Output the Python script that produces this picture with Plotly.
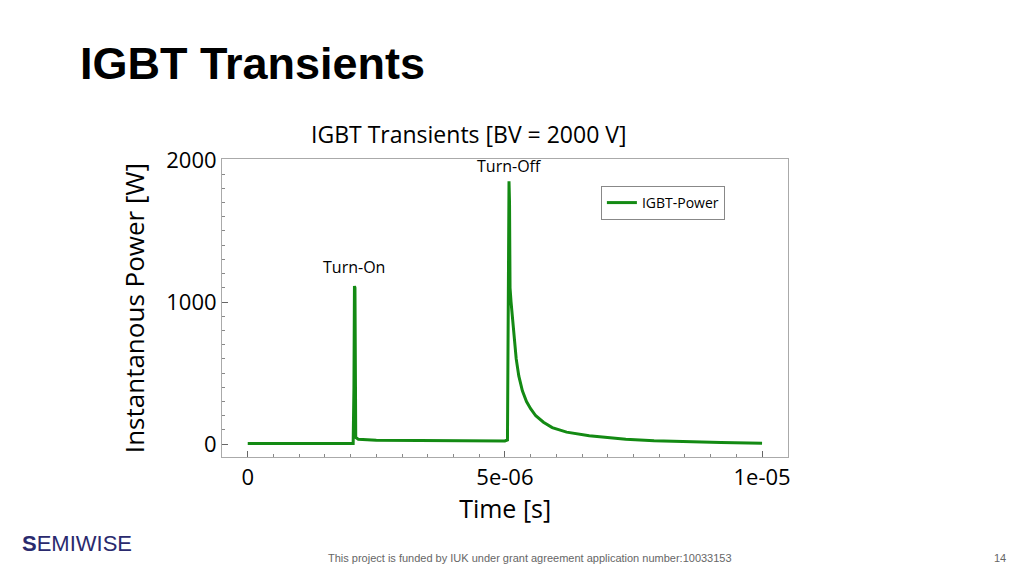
import plotly.graph_objects as go

# IGBT instantaneous power
time_s = [0, 1.0e-6, 2.05e-6, 2.065e-6, 2.075e-6, 2.085e-6, 2.1e-6, 2.15e-6, 2.5e-6, 3.5e-6, 5.0e-6,
          5.05e-6, 5.07e-6, 5.08e-6, 5.09e-6, 5.1e-6, 5.12e-6, 5.15e-6, 5.18e-6, 5.22e-6, 5.27e-6,
          5.34e-6, 5.42e-6, 5.5e-6, 5.6e-6, 5.75e-6, 5.92e-6, 6.2e-6, 6.64e-6, 7.0e-6, 7.35e-6,
          7.9e-6, 8.43e-6, 9.2e-6, 1.0e-5]
power_w = [5, 5, 5, 400, 1112, 1100, 47, 35, 28, 25, 23,
           30, 1840, 1850, 1700, 1100, 1000, 860, 740, 600, 480,
           375, 300, 250, 200, 155, 117, 85, 59, 45, 35,
           25, 19, 12, 7]

fig = go.Figure(go.Scatter(x=time_s, y=power_w, mode='lines', name='IGBT-Power',
                           line=dict(color='#138a13', width=3)))

fig.update_layout(width=1024, height=576, margin=dict(l=0, r=0, t=0, b=0),
                  paper_bgcolor='white', plot_bgcolor='white',
                  font=dict(family='Open Sans', color='black'),
                  showlegend=True,
                  legend=dict(x=0.579, y=0.691, xanchor='left', yanchor='top',
                              bordercolor='#888', borderwidth=1, font=dict(size=14)))

fig.update_xaxes(domain=[0.209, 0.762], range=[-5e-7, 1.051e-5], automargin=False,
                 tickvals=[0, 5e-6, 1e-5], ticktext=['0', '5e-06', '1e-05'],
                 ticks='inside', ticklen=6, tickcolor='#666', tickfont=dict(size=22),
                 minor=dict(dtick=5e-7, ticks='inside', ticklen=3, tickcolor='#888'),
                 showgrid=False, zeroline=False, showline=True, linecolor='#aaa', mirror=True,
                 title=dict(text='Time [s]', font=dict(size=25), standoff=7))
fig.update_yaxes(domain=[0.220, 0.738], range=[-92, 2007], automargin=False,
                 tickvals=[0, 1000, 2000],
                 ticks='inside', ticklen=6, tickcolor='#666', tickfont=dict(size=22),
                 minor=dict(dtick=100, ticks='inside', ticklen=3, tickcolor='#888'),
                 showgrid=False, zeroline=False, showline=True, linecolor='#aaa', mirror=True,
                 title=dict(text='Instantanous Power [W]', font=dict(size=26), standoff=14))

fig.add_annotation(x=2.07e-6, y=1112, text='Turn-On', showarrow=False, yanchor='bottom',
                   yshift=6, font=dict(size=16))
fig.add_annotation(x=5.08e-6, y=1850, text='Turn-Off', showarrow=False, yanchor='bottom',
                   yshift=2, font=dict(size=16))

fig.add_annotation(x=0.450, y=0.813, xref='paper', yref='paper', text='IGBT Transients [BV = 2000 V]',
                   showarrow=False, font=dict(size=23))
fig.add_annotation(x=0.068, y=0.952, xref='paper', yref='paper', xanchor='left',
                   text='<b>IGBT Transients</b>', showarrow=False,
                   font=dict(family='Liberation Sans', size=45, color='black'))
fig.add_annotation(x=0.51, y=0.032, xref='paper', yref='paper',
                   text='This project is funded by IUK under grant agreement application number:10033153',
                   showarrow=False, font=dict(family='Liberation Sans', size=11, color='#666'))
fig.add_annotation(x=0.977, y=0.032, xref='paper', yref='paper', text='14',
                   showarrow=False, font=dict(family='Liberation Sans', size=11, color='#666'))
fig.add_annotation(x=0.012, y=0.045, xref='paper', yref='paper', xanchor='left',
                   text='<b>S</b>EMIWISE', showarrow=False,
                   font=dict(family='Liberation Sans', size=22, color='#2a2a6e'))

fig.write_html("out.html")
